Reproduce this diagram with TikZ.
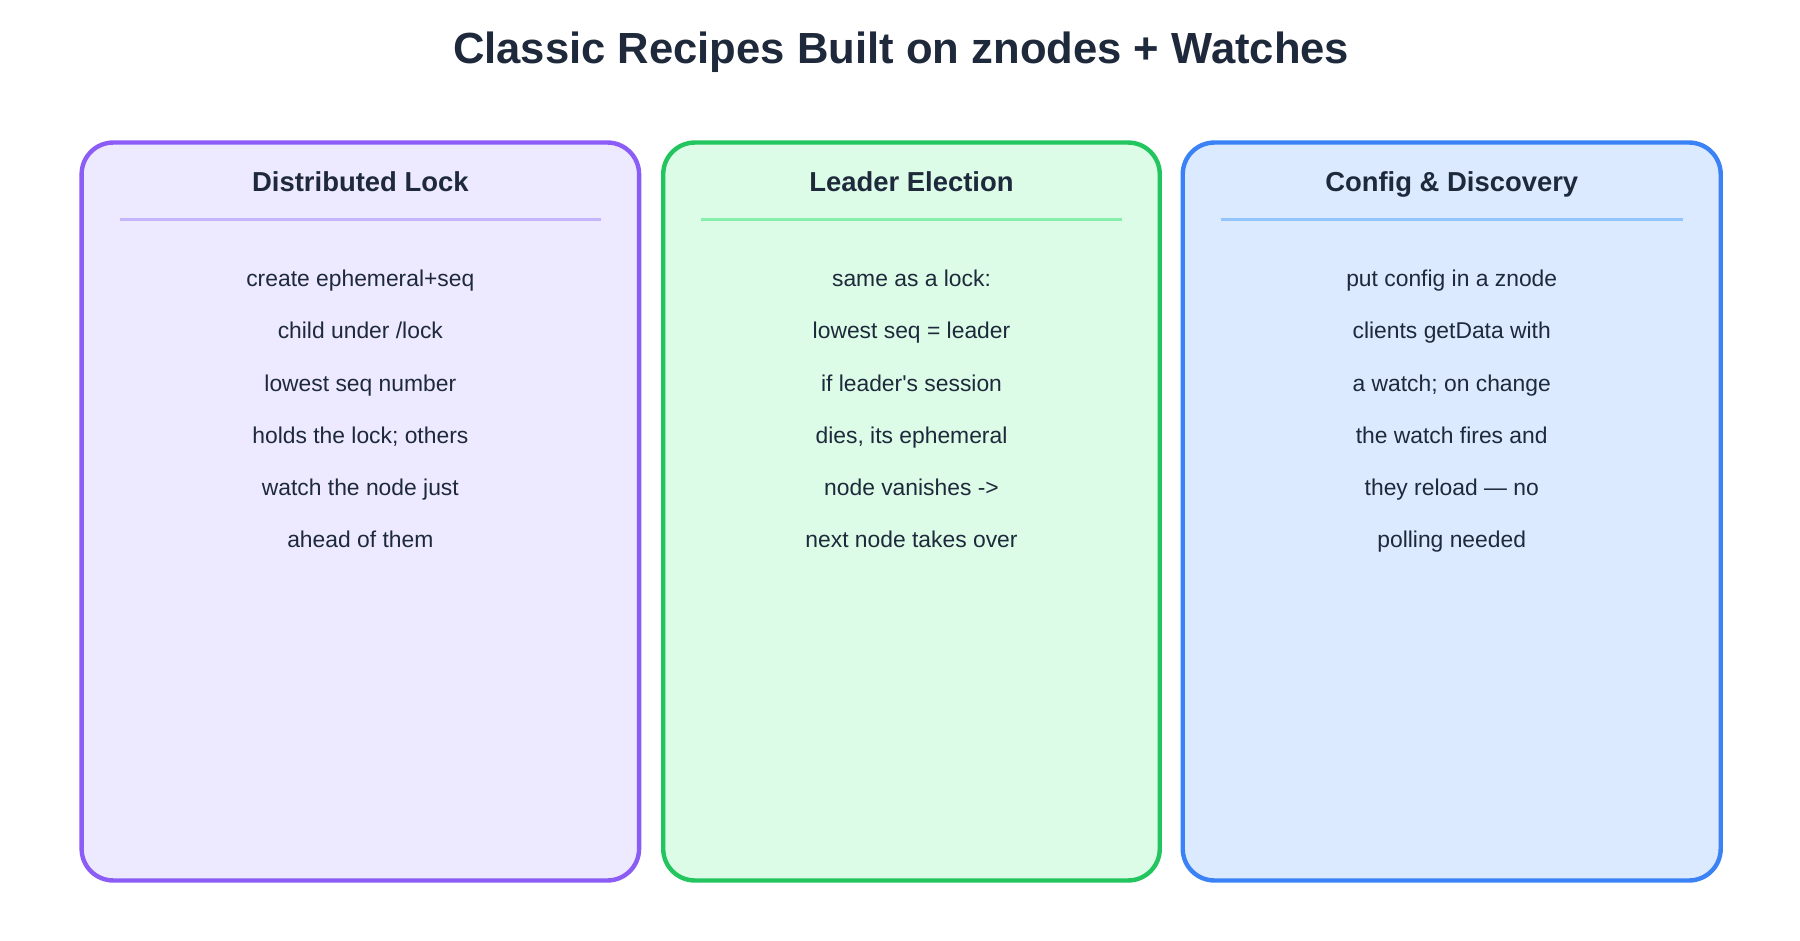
\documentclass[tikz,border=0pt]{standalone}
\usepackage{fontspec}
\setmainfont{Liberation Sans}
\usetikzlibrary{calc}
\definecolor{lockdraw}{HTML}{8B5CF6}\definecolor{lockfill}{HTML}{EDE9FE}\definecolor{lockrule}{HTML}{C4B5FD}
\definecolor{leaddraw}{HTML}{22C55E}\definecolor{leadfill}{HTML}{DCFCE7}\definecolor{leadrule}{HTML}{86EFAC}
\definecolor{confdraw}{HTML}{3B82F6}\definecolor{conffill}{HTML}{DBEAFE}\definecolor{confrule}{HTML}{93C5FD}
\definecolor{ink}{HTML}{1E293B}
\begin{document}
\begin{tikzpicture}[x=0.011494cm, y=-0.011494cm,
        card_style/.style={draw=#1draw, fill=#1fill, line width=1.25pt, rounded corners=9pt},
        head_style/.style={font=\fontsize{7.8}{9}\selectfont\bfseries, text=ink, text height=6pt, text depth=1.6pt},
        body_style/.style={font=\fontsize{6.5}{8}\selectfont, text=ink, text height=5pt, text depth=1.4pt}]

        \useasboundingbox (0,0) rectangle (1566,818);

        \node [font=\fontsize{12.4}{14}\selectfont\bfseries, text=ink] (title) at (784,45) {Classic Recipes Built on znodes + Watches};

        % cards: name/x-left/x-right/colour/heading/lines
        \foreach \n/\xa/\xb/\c/\h/\body in {
            lock/71/556/lock/Distributed Lock/{create ephemeral+seq,child under /lock,lowest seq number,holds the lock; others,watch the node just,ahead of them},
            lead/577/1009/lead/Leader Election/{same as a lock:,lowest seq = leader,if leader\textquotesingle s session,{dies, its ephemeral},node vanishes ->,next node takes over},
            conf/1029/1497/conf/Config \& Discovery/{put config in a znode,clients getData with,a watch; on change,the watch fires and,they reload — no,polling needed}} {
            \draw [card_style=\c] (\xa,124) rectangle (\xb,766);
            \node [head_style] (\n_head) at ({(\xa+\xb)/2},160) {\h};
            \draw [draw=\c rule, line width=0.6pt] (\xa+33,191) -- (\xb-33,191);
            \foreach \line [count=\i] in \body {
                \node [body_style] (\n_line\i) at ({(\xa+\xb)/2},{244+45.4*(\i-1)}) {\line};
            }
        }

\end{tikzpicture}
\end{document}
